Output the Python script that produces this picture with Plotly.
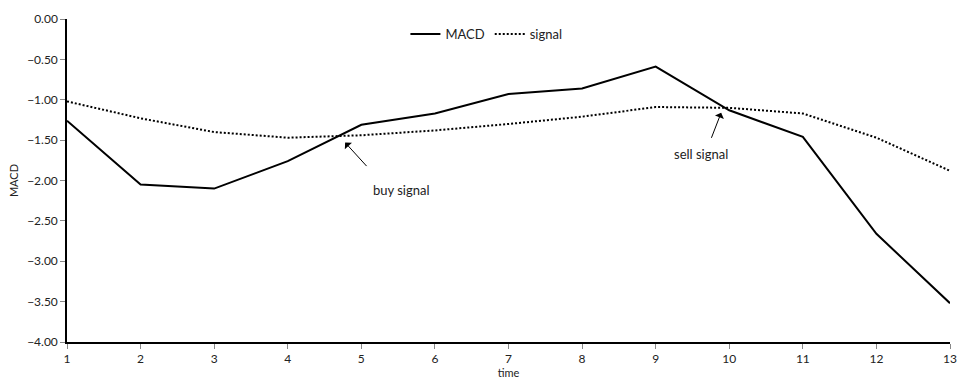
import plotly.graph_objects as go

time = list(range(1, 14))
macd = [-1.26, -2.05, -2.10, -1.76, -1.31, -1.17, -0.93, -0.86, -0.59, -1.13, -1.46, -2.66, -3.52]
signal = [-1.02, -1.23, -1.40, -1.47, -1.44, -1.38, -1.30, -1.21, -1.09, -1.10, -1.17, -1.47, -1.88]

y_ticks = [0, -0.5, -1.0, -1.5, -2.0, -2.5, -3.0, -3.5, -4.0]

# crossover callouts: (arrow tip, arrow tail, label position, label)
callouts = [
    ((4.78, -1.53), (5.09, -1.84), (5.54, -2.12), "buy signal"),
    ((9.89, -1.16), (9.75, -1.49), (9.61, -1.67), "sell signal"),
]

font_family = "Lato, 'Open Sans', sans-serif"

fig = go.Figure()
fig.add_trace(go.Scatter(x=time, y=macd, mode="lines", name="MACD",
                         line=dict(color="black", width=2)))
fig.add_trace(go.Scatter(x=time, y=signal, mode="lines", name="signal",
                         line=dict(color="black", width=2, dash="2px,2px")))

annotations = []
for (tip, tail, lab, text) in callouts:
    annotations.append(dict(x=tip[0], y=tip[1], ax=tail[0], ay=tail[1],
                            xref="x", yref="y", axref="x", ayref="y",
                            text="", showarrow=True, arrowhead=1,
                            arrowsize=1.6, arrowwidth=1, arrowcolor="black"))
    annotations.append(dict(x=lab[0], y=lab[1], xref="x", yref="y",
                            text=text, showarrow=False,
                            font=dict(size=13, color="#222", family=font_family)))

fig.update_layout(
    width=968, height=387,
    margin=dict(l=67, r=11, t=15, b=42),
    paper_bgcolor="white", plot_bgcolor="white",
    font=dict(family=font_family, size=12, color="#222"),
    showlegend=True,
    legend=dict(orientation="h", x=0.475, y=1.0, xanchor="center", yanchor="top",
                font=dict(size=13), bgcolor="rgba(0,0,0,0)"),
    annotations=annotations,
    xaxis=dict(range=[1, 13], tickmode="array", tickvals=time,
               showline=True, linecolor="black", linewidth=1.5,
               ticks="outside", ticklen=5, tickcolor="#888",
               showgrid=False, zeroline=False,
               title=dict(text="time", font=dict(size=11), standoff=2)),
    yaxis=dict(range=[-4, 0], tickmode="array", tickvals=y_ticks,
               tickformat=".2f",
               showline=True, linecolor="black", linewidth=1.5,
               ticks="outside", ticklen=5, tickcolor="#888",
               showgrid=False, zeroline=False,
               title=dict(text="MACD", font=dict(size=11), standoff=6)),
)

fig.write_html("out.html")
